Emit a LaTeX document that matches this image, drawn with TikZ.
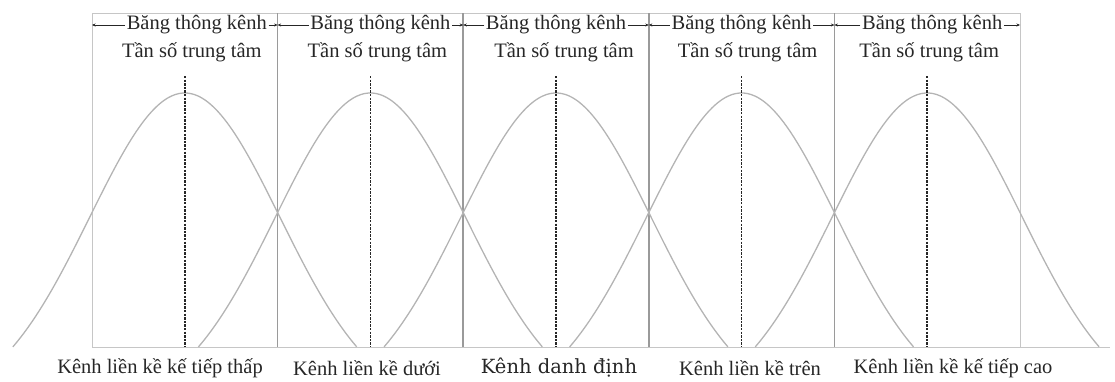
\documentclass[tikz,border=0pt]{standalone}
\usepackage{fontspec}
\setmainfont{Liberation Serif}
\newfontfamily\mainlabelfont{DejaVu Serif}
\usetikzlibrary{arrows.meta,positioning}
\definecolor{CurveGray}{HTML}{B4B4B4}
\definecolor{EdgeGray}{HTML}{9A9A9A}
\definecolor{FrameGray}{HTML}{C6C6C6}
\definecolor{InkDark}{HTML}{262626}

\begin{document}
\begin{tikzpicture}[x=1pt, y=-1pt,
  every node/.style={font=\fontsize{20.5}{24}\selectfont, text=InkDark, inner sep=1.5pt},
  bell/.style={CurveGray, line width=1.3pt},
  bandedge/.style={EdgeGray, line width=1.6pt},
  outerframe/.style={FrameGray, line width=1pt},
  centreline/.style={InkDark, line width=1.5pt, dash pattern=on 2.4pt off 1.2pt},
  bwarrow/.style={InkDark, line width=0.6pt, -{Stealth[length=3.5pt,width=3pt]}}]
  \useasboundingbox (0,0) rectangle (1115,381);
  % frame
  \draw[outerframe] (92,13) -- (1020,13);
  \draw[outerframe] (92,347) -- (1110,347);
  \draw[outerframe] (92,13) -- (92,347);
  \draw[outerframe] (1020,13) -- (1020,347);
  \foreach \k in {1,...,4}
    \draw[bandedge] ({92+185.6*\k},13) -- ({92+185.6*\k},347);
  \foreach \k in {0,...,5}
    \coordinate (e\k) at ({92+185.6*\k},25);
  % channels
  \foreach \i/\bx/\tx in {1/12/7, 2/10/7, 3/0/8, 4/0/6, 5/5/2} {
    \pgfmathsetmacro\c{92+185.6*(\i-0.5)}
    \pgfmathtruncatemacro\j{\i-1}
    \draw[bell] plot[domain=-1.81:1.81, samples=90, smooth]
      ({\c+95*\x}, {347-254*(exp(-\x*\x/2)-0.194)/0.806});
    \draw[centreline] (\c,76) -- (\c,347);
    \node (bw\i) at ({\c+\bx},25) {Băng thông kênh};
    \node (tf\i) at ({\c+\tx},52) {Tần số trung tâm};
    \draw[bwarrow] (bw\i.west) -- (e\j);
    \draw[bwarrow] (bw\i.east) -- (e\i);
  }
  \node (ch1) at (160,368) {Kênh liền kề kế tiếp thấp};
  \node (ch2) at (367,368) {Kênh liền kề dưới};
  \node[font=\mainlabelfont\fontsize{19.5}{24}\selectfont] (ch3) at (559,368) {Kênh danh định};
  \node (ch4) at (750,368) {Kênh liền kề trên};
  \node (ch5) at (953,368) {Kênh liền kề kế tiếp cao};
\end{tikzpicture}
\end{document}
